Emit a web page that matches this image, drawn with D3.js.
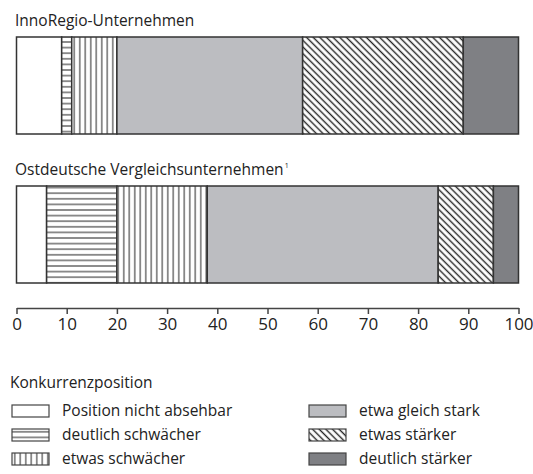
<!DOCTYPE html>
<html>
<head>
<meta charset="utf-8">
<script src="https://cdn.jsdelivr.net/npm/d3@7"></script>
<style>
  body { margin: 0; background: #fff; }
  text { font-family: "Open Sans", sans-serif; fill: #222; }
</style>
</head>
<body>
<script>
// values in percent
const categories = ["Position nicht absehbar", "deutlich schwächer", "etwas schwächer",
                    "etwa gleich stark", "etwas stärker", "deutlich stärker"];
const groups = ["InnoRegio-Unternehmen", "Ostdeutsche Vergleichsunternehmen"];
const innoRegio = [9, 2, 9, 37, 32, 11];
const ostdeutsche = [6, 14, 18, 46, 11, 5];
const tickValues = [0, 10, 20, 30, 40, 50, 60, 70, 80, 90, 100];
const legendTitle = "Konkurrenzposition";

const fills = ["#fff", "url(#horiz)", "url(#vert)", "#bcbdc1", "url(#diag)", "#7f8084"];

const svg = d3.select("body").append("svg")
  .attr("width", 533)
  .attr("height", 474);

const defs = svg.append("defs");

// horizontal lines
const ph = defs.append("pattern").attr("id", "horiz")
  .attr("patternUnits", "userSpaceOnUse").attr("width", 10).attr("height", 5.6);
ph.append("rect").attr("width", 10).attr("height", 5.6).attr("fill", "#fff");
ph.append("line").attr("x1", 0).attr("x2", 10).attr("y1", 2.8).attr("y2", 2.8)
  .attr("stroke", "#222").attr("stroke-width", 1);

// vertical lines
const pv = defs.append("pattern").attr("id", "vert")
  .attr("patternUnits", "userSpaceOnUse").attr("width", 5.5).attr("height", 10);
pv.append("rect").attr("width", 5.5).attr("height", 10).attr("fill", "#fff");
pv.append("line").attr("x1", 2.75).attr("x2", 2.75).attr("y1", 0).attr("y2", 10)
  .attr("stroke", "#222").attr("stroke-width", 1);

// diagonal "\" lines
const pd = defs.append("pattern").attr("id", "diag")
  .attr("patternUnits", "userSpaceOnUse").attr("width", 4.7).attr("height", 10)
  .attr("patternTransform", "rotate(-45)");
pd.append("rect").attr("width", 4.7).attr("height", 10).attr("fill", "#fff");
pd.append("line").attr("x1", 2.35).attr("x2", 2.35).attr("y1", 0).attr("y2", 10)
  .attr("stroke", "#222").attr("stroke-width", 1.4);

const x = d3.scaleLinear().domain([0, 100]).range([16.5, 518.5]);

const barTops = [37, 186];
const barH = 97;

[innoRegio, ostdeutsche].forEach((vals, gi) => {
  const ends = d3.cumsum(vals);
  const segs = vals.map((v, i) => ({ v: v, i: i, x0: ends[i] - v, x1: ends[i] }));
  const g = svg.append("g");

  const t = g.append("text")
    .attr("x", 15)
    .attr("y", barTops[gi] - 11)
    .style("font-size", "15.5px")
    .text(groups[gi]);
  if (gi === 1) {
    t.append("tspan").attr("dx", 1).attr("dy", -7).style("font-size", "7px").text("1");
  }

  g.selectAll("rect.seg").data(segs).join("rect")
    .attr("class", "seg")
    .attr("x", d => x(d.x0))
    .attr("y", barTops[gi])
    .attr("width", d => x(d.x1) - x(d.x0))
    .attr("height", barH)
    .attr("fill", d => fills[d.i])
    .attr("stroke", "#333")
    .attr("stroke-width", 1.5);
});

// axis
const axis = svg.append("g")
  .attr("transform", "translate(0,308)")
  .call(d3.axisBottom(x).tickValues(tickValues).tickSize(6).tickPadding(4).tickSizeOuter(0));
axis.select(".domain").attr("stroke", "#444").attr("stroke-width", 1.5);
axis.selectAll(".tick line").attr("stroke", "#444").attr("stroke-width", 1.5);
axis.selectAll(".tick text")
  .style("font-family", "'Open Sans', sans-serif")
  .style("font-size", "17px")
  .attr("fill", "#222");

// legend
svg.append("text")
  .attr("x", 10)
  .attr("y", 388)
  .style("font-size", "15.5px")
  .text(legendTitle);

const legend = svg.append("g");
const items = legend.selectAll("g").data(categories).join("g")
  .attr("transform", (d, i) => {
    const col = Math.floor(i / 3), row = i % 3;
    return "translate(" + (col === 0 ? 12 : 309) + "," + (405 + row * 24) + ")";
  });
items.append("rect")
  .attr("width", 37)
  .attr("height", 12)
  .attr("fill", (d, i) => fills[i])
  .attr("stroke", "#444")
  .attr("stroke-width", 1.2);
items.append("text")
  .attr("x", 50)
  .attr("y", 11)
  .style("font-size", "15.5px")
  .text(d => d);
</script>
</body>
</html>
